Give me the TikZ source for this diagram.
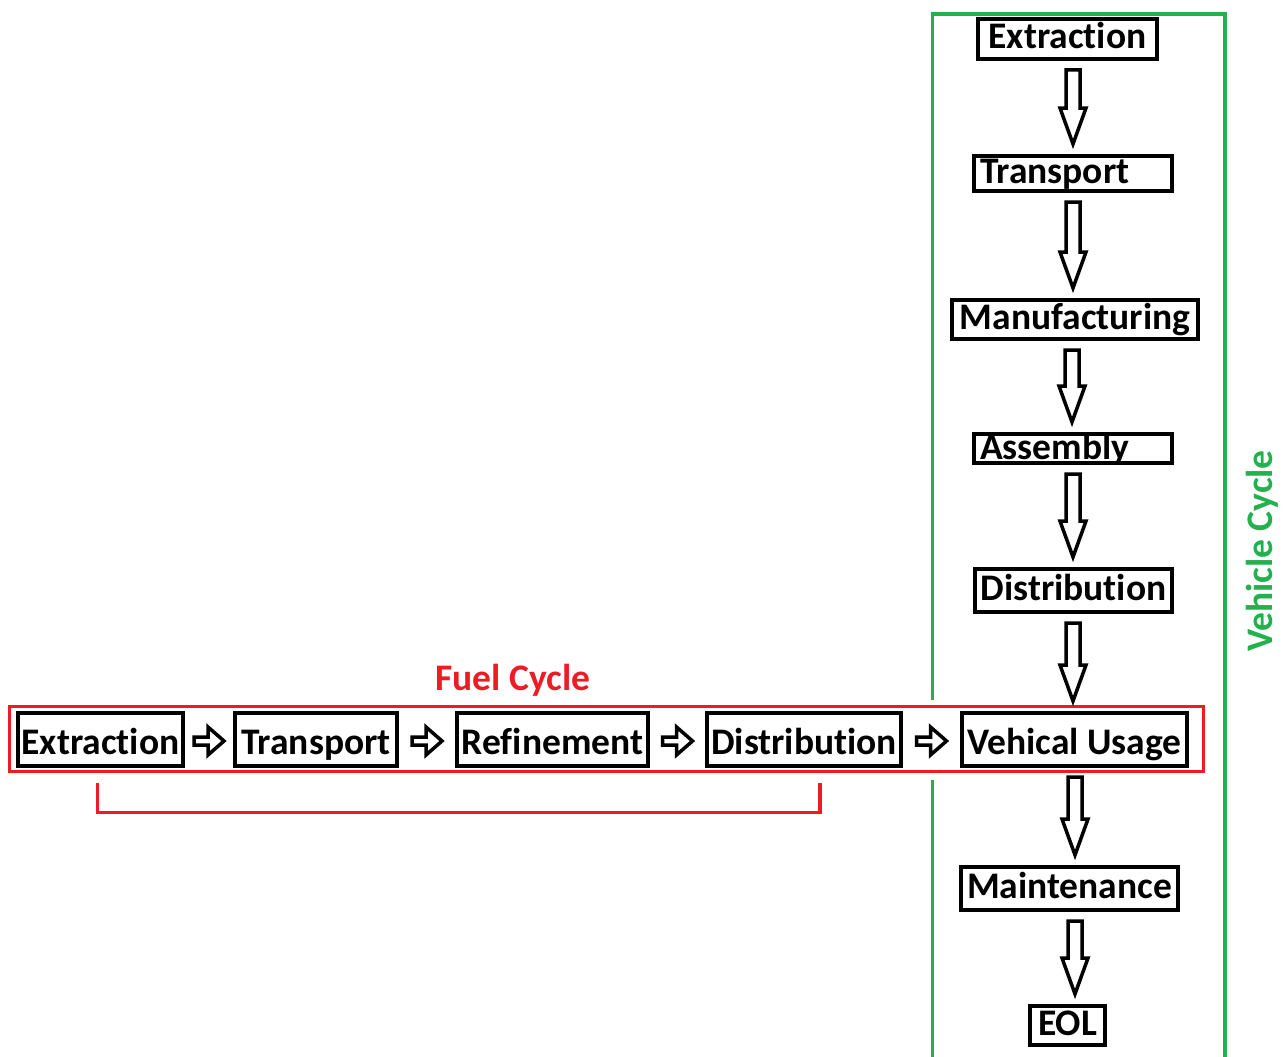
\documentclass[tikz,border=0pt]{standalone}
\usepackage{fontspec}
\setmainfont{Carlito}[Ligatures=NoCommon]
\usetikzlibrary{calc}
\definecolor{pred}{RGB}{237,28,36}
\definecolor{pgreen}{RGB}{34,177,76}
\tikzset{
  lbl/.style={font=\bfseries\fontsize{37.5}{40}\selectfont},
  box/.style={lbl, draw=black, line width=4pt, rectangle, inner sep=0pt,
    text height=24pt, text depth=5pt},
  rowbox/.style={box, text height=34pt, text depth=5pt, minimum height=53pt},
  leftbox/.style={box, align=left, inner xsep=6pt},
  blockarr/.style={draw=black, line width=3.5pt, line join=miter, fill=white},
  harr/.style={draw=black, line width=3.5pt, line join=miter, fill=white},
  frame/.style={line width=3.5pt}
}
\newcommand\vblockarrow[3]{%
  \coordinate (vs) at ($(#1.south -| #3,0)+(0,9)$);
  \coordinate (vt) at ($(#2.north -| #3,0)+(0,-10)$);
  \path[blockarr] ([shift={(-7,0)}]vs) -- ([shift={(7,0)}]vs)
    -- ([shift={(7,-36)}]vt) -- ([shift={(13,-36)}]vt) -- (vt)
    -- ([shift={(-13,-36)}]vt) -- ([shift={(-7,-36)}]vt) -- cycle;
}
\newcommand\hblockarrow[2]{%
  \coordinate (hm) at ($($(#1.east)!0.5!(#2.west)$)+(0,1.5)$);
  \path[harr] ([shift={(-15,-4)}]hm) -- ([shift={(-1,-4)}]hm)
    -- ([shift={(-1,-14)}]hm) -- ([shift={(15,0)}]hm)
    -- ([shift={(-1,14)}]hm) -- ([shift={(-1,4)}]hm)
    -- ([shift={(-15,4)}]hm) -- cycle;
}
\begin{document}
\begin{tikzpicture}[x=1pt,y=-1pt]
\useasboundingbox (0,0) rectangle (1285,1057);
% green vehicle cycle frame
\draw[pgreen, frame] (932.5,1060) -- (932.5,780);
\draw[pgreen, frame] (932.5,700) -- (932.5,14) -- (1225,14) -- (1225,1060);
\node[lbl, text=pgreen, rotate=90, anchor=base] (vc) at (1272,551) {Vehicle Cycle};
% red fuel cycle frame
\draw[pred, frame] (9.5,706.5) rectangle (1203.5,771.5);
\node[lbl, text=pred, anchor=base] (fc) at (513,690) {Fuel Cycle};
\draw[pred, frame] (97.5,783) -- (97.5,812.5) -- (820,812.5) -- (820,783);
% vertical column
\node[box, minimum width=179pt, minimum height=40pt] (v1) at (1067.5,39) {Extraction};
\node[leftbox, text width=186pt, minimum height=35pt] (v2) at (1073,173.5) {Transport};
\node[box, minimum width=246pt, minimum height=39pt] (v3) at (1075,319.5) {Manufacturing};
\node[leftbox, text width=186pt, text height=22pt, text depth=1pt, minimum height=29pt] (v4) at (1073,448.5) {Assembly};
\node[box, minimum width=197pt, minimum height=43pt] (v5) at (1073.5,590.5) {Distribution};
\node[rowbox, minimum width=225pt] (v6) at (1074.5,739.5) {Vehical Usage};
\node[box, minimum width=217pt, minimum height=43pt] (v7) at (1069.5,888.5) {Maintenance};
\node[box, minimum width=75pt, minimum height=39pt] (v8) at (1067.5,1025.5) {EOL};
% horizontal row
\node[rowbox, minimum width=165pt] (h1) at (100.5,739.5) {Extraction};
\node[rowbox, minimum width=162pt] (h2) at (316,739.5) {Transport};
\node[rowbox, minimum width=191pt] (h3) at (552.5,739.5) {Refinement};
\node[rowbox, minimum width=194pt] (h4) at (804,739.5) {Distribution};
% arrows
\vblockarrow{v1}{v2}{1073}
\vblockarrow{v2}{v3}{1073}
\vblockarrow{v3}{v4}{1072}
\vblockarrow{v4}{v5}{1073}
\vblockarrow{v5}{v6}{1073}
\vblockarrow{v6}{v7}{1075}
\vblockarrow{v7}{v8}{1075}
\hblockarrow{h1}{h2}
\hblockarrow{h2}{h3}
\hblockarrow{h3}{h4}
\hblockarrow{h4}{v6}
\end{tikzpicture}
\end{document}
